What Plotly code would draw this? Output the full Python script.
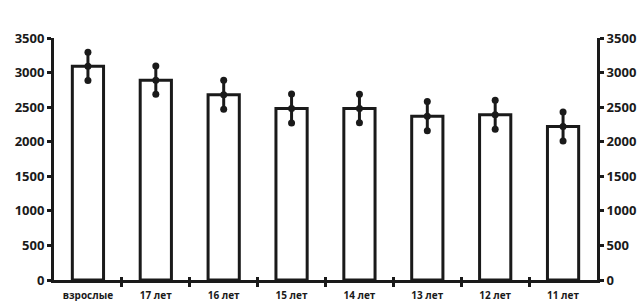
import plotly.graph_objects as go

categories = ["взрослые", "17 лет", "16 лет", "15 лет", "14 лет", "13 лет", "12 лет", "11 лет"]
values = [3090, 2890, 2680, 2480, 2480, 2370, 2390, 2220]
errors = [205, 205, 210, 210, 205, 210, 210, 210]
y_ticks = [0, 500, 1000, 1500, 2000, 2500, 3000, 3500]

INK = "#1a1a1a"
FONT = "Open Sans"

xs = list(range(len(categories)))
upper = [v + e for v, e in zip(values, errors)]
lower = [v - e for v, e in zip(values, errors)]
bounds = [i + 0.5 for i in xs[:-1]]
y_text = ["<b>%d</b>" % t for t in y_ticks]
x_text = ["<b>%s</b>" % c for c in categories]

fig = go.Figure()
fig.add_trace(go.Bar(
    x=xs, y=values, width=0.46,
    marker=dict(color="white", line=dict(color=INK, width=3)),
    showlegend=False, hoverinfo="skip",
))
fig.add_trace(go.Scatter(
    x=xs, y=values, mode="markers",
    marker=dict(color=INK, size=7),
    error_y=dict(type="data", array=errors, visible=True, color=INK, thickness=3, width=0),
    showlegend=False,
))
fig.add_trace(go.Scatter(
    x=xs + xs, y=upper + lower, mode="markers",
    marker=dict(color=INK, size=7),
    showlegend=False,
))
# invisible carrier so the secondary axes are drawn
fig.add_trace(go.Scatter(x=xs, y=values, xaxis="x2", yaxis="y2", mode="markers",
                         marker=dict(opacity=0), showlegend=False, hoverinfo="skip"))

axis_font = dict(family=FONT, size=13, color=INK)

fig.update_layout(
    width=644, height=301,
    margin=dict(l=54, r=47, t=38, b=21),
    paper_bgcolor="white", plot_bgcolor="white",
    xaxis=dict(
        range=[-0.5, 7.5], tickvals=xs, ticktext=x_text,
        ticks="", showgrid=False, zeroline=False, automargin=False,
        showline=True, linecolor=INK, linewidth=3, ticklabelstandoff=4,
        tickfont=dict(family=FONT, size=10, color=INK),
        minor=dict(tickvals=bounds, ticks="outside", ticklen=4, tickwidth=2.5, tickcolor=INK, showgrid=False),
    ),
    xaxis2=dict(
        overlaying="x", anchor="y", range=[-0.5, 7.5], tickvals=bounds, side="bottom",
        ticks="inside", ticklen=3, tickwidth=2.5, tickcolor=INK, automargin=False,
        showticklabels=False, showgrid=False, zeroline=False, showline=False,
    ),
    yaxis=dict(
        range=[0, 3500], tickvals=y_ticks, ticktext=y_text, ticks="outside", ticklen=4, tickwidth=2.5,
        tickcolor=INK, showline=True, linecolor=INK, linewidth=3, automargin=False,
        showgrid=False, zeroline=False, tickfont=axis_font,
    ),
    yaxis2=dict(
        overlaying="y", side="right", anchor="x", range=[0, 3500], tickvals=y_ticks, ticktext=y_text,
        ticks="outside", ticklen=4, tickwidth=2.5, tickcolor=INK, automargin=False,
        showline=True, linecolor=INK, linewidth=3,
        showgrid=False, zeroline=False, tickfont=axis_font,
    ),
)

fig.write_html("out.html")
